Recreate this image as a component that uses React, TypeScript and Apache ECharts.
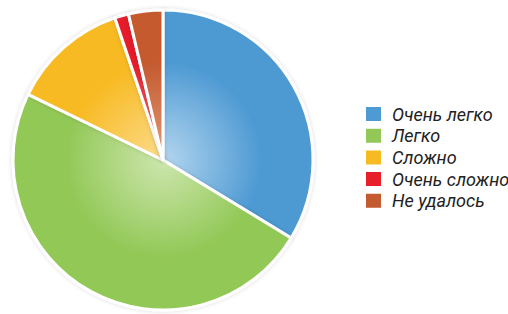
import React, { useEffect, useRef } from "react";
import * as echarts from "echarts";

const categories = ["Очень легко", "Легко", "Сложно", "Очень сложно", "Не удалось"];
const values = [33.7, 48.5, 12.6, 1.5, 3.7];
const baseColors = ["#4e9ad3", "#92c857", "#f8ba22", "#e61f2a", "#c45a2f"];
const lightColors = ["#b4d6ef", "#cde6ad", "#fbdb8c", "#f38a8f", "#e29b7b"];

const CX = 163;
const CY = 160;
const R = 150;

export default function App() {
  const ref = useRef<HTMLDivElement>(null);
  useEffect(() => {
    if (!ref.current) return;
    const chart = echarts.init(ref.current, undefined, { renderer: "svg" });
    const data = categories.map((name, i) => ({
      name,
      value: values[i],
      itemStyle: {
        color: {
          type: "radial",
          x: CX,
          y: CY,
          r: R,
          global: true,
          colorStops: [
            { offset: 0, color: lightColors[i] },
            { offset: 0.65, color: baseColors[i] },
            { offset: 1, color: baseColors[i] },
          ],
        },
      },
    }));
    chart.setOption({
      animation: false,
      backgroundColor: "#ffffff",
      legend: {
        orient: "vertical",
        left: 359,
        top: 100,
        itemWidth: 17,
        itemHeight: 16,
        itemGap: 3.7,
        icon: "rect",
        selectedMode: false,
        textStyle: {
          fontFamily: "Roboto",
          fontStyle: "italic",
          fontSize: 18,
          color: "#222222",
          padding: [0, 0, 0, 5],
        },
        data: categories.map((name, i) => ({
          name,
          itemStyle: { color: baseColors[i] },
        })),
      },
      series: [
        {
          type: "pie",
          center: [CX, CY],
          radius: [0, R],
          startAngle: 90,
          clockwise: true,
          label: { show: false },
          labelLine: { show: false },
          emphasis: { disabled: true },
          itemStyle: {
            borderColor: "#ffffff",
            borderWidth: 3,
            shadowBlur: 4,
            shadowColor: "rgba(0,0,0,0.15)",
          },
          data,
        },
      ],
    });
    return () => chart.dispose();
  }, []);
  return (
    <div
      ref={ref}
      style={{ position: "absolute", left: 0, top: 0, width: 508, height: 314 }}
    />
  );
}
